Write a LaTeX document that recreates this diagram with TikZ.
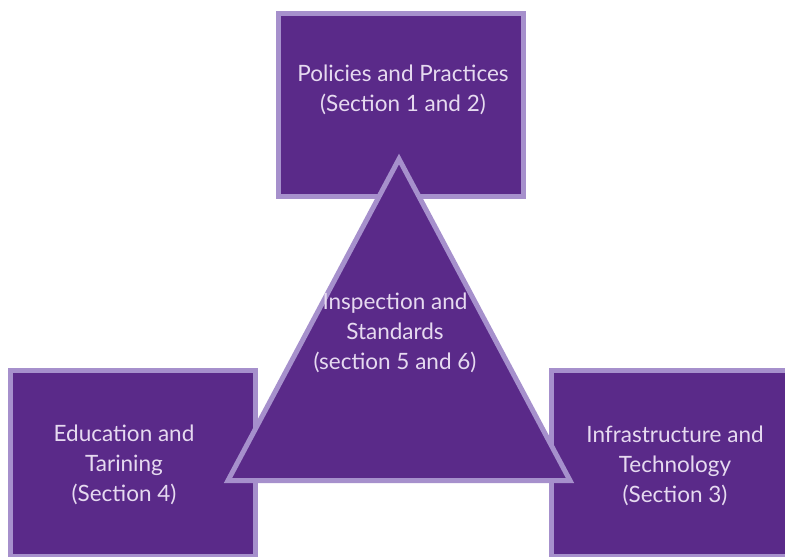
\documentclass[tikz,border=0pt]{standalone}
\usepackage{fontspec}
\setmainfont{Lato}
\definecolor{boxfill}{HTML}{5A2A89}
\definecolor{boxline}{HTML}{A690CC}
\definecolor{boxtext}{HTML}{E6DAF0}
\tikzset{
  panel/.style={draw=boxline, fill=boxfill, line width=5pt, inner sep=0pt},
  label/.style={text=boxtext, align=center, font=\fontsize{22.5}{30}\selectfont, inner sep=0pt},
}
\begin{document}
\begin{tikzpicture}[x=1pt,y=-1pt]
\useasboundingbox (0,0) rectangle (785,557);
\clip (0,0) rectangle (785,557);
% boxes
\node[panel, minimum width=245pt, minimum height=183pt] (top) at (401,105) {};
\node[panel, minimum width=245pt, minimum height=186pt] (left) at (133,463) {};
\node[panel, minimum width=260pt, minimum height=186pt] (right) at (681.5,463) {};
% triangle
\coordinate (apex) at (399,159);
\coordinate (bl) at (228,480.5);
\coordinate (br) at (570,480.5);
\draw[draw=boxline, fill=boxfill, line width=5pt] (apex) -- (bl) -- (br) -- cycle;
% texts
\node[label] (toptext) at (403,90) {Policies and Practices\\(Section 1 and 2)};
\node[label] (tritext) at (395,333) {Inspection and\\Standards\\(section 5 and 6)};
\node[label] (lefttext) at (124,465) {Education and\\Tarining\\(Section 4)};
\node[label] (righttext) at (675,466) {Infrastructure and\\Technology\\(Section 3)};
\end{tikzpicture}
\end{document}
